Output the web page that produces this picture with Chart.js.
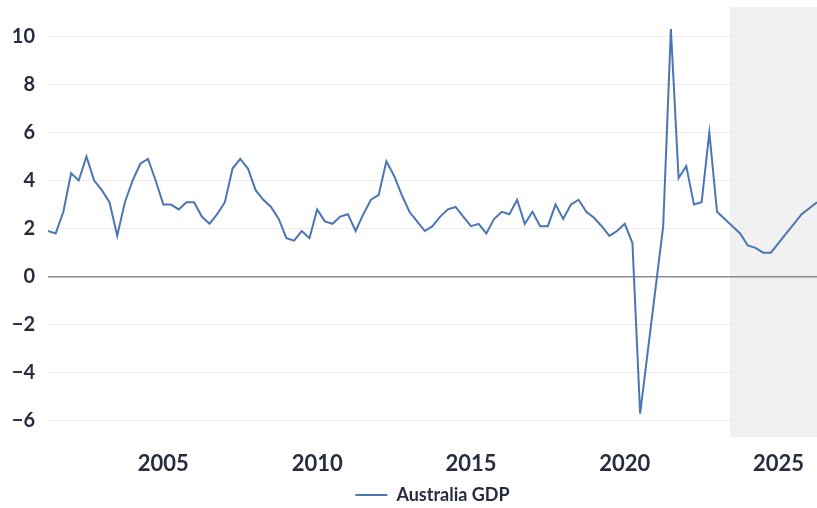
<!DOCTYPE html>
<html>
<head>
<meta charset="utf-8">
<script src="https://cdn.jsdelivr.net/npm/chart.js@4"></script>
<style>
  html, body { margin: 0; padding: 0; background: #fff; }
  #wrap { width: 817px; height: 508px; position: relative; }
</style>
</head>
<body>
<div id="wrap"><canvas id="gdpChart"></canvas></div>
<script>
// Australia GDP, year-on-year % change, quarterly from 2001 Q1 (forecast from mid 2023)
const startYear = 2001;
const gdp = [
  1.9, 1.8, 2.7, 4.3, 4.0, 5.0, 4.0, 3.6, 3.1, 1.7,
  3.1, 4.0, 4.7, 4.9, 4.0, 3.0, 3.0, 2.8, 3.1, 3.1,
  2.5, 2.2, 2.6, 3.1, 4.5, 4.9, 4.5, 3.6, 3.2, 2.9,
  2.4, 1.6, 1.5, 1.9, 1.6, 2.8, 2.3, 2.2, 2.5, 2.6,
  1.9, 2.6, 3.2, 3.4, 4.8, 4.2, 3.4, 2.7, 2.3, 1.9,
  2.1, 2.5, 2.8, 2.9, 2.5, 2.1, 2.2, 1.8, 2.4, 2.7,
  2.6, 3.2, 2.2, 2.7, 2.1, 2.1, 3.0, 2.4, 3.0, 3.2,
  2.7, 2.45, 2.1, 1.7, 1.9, 2.2, 1.4, -5.7, -3.1, -0.5,
  2.1, 10.3, 4.1, 4.6, 3.0, 3.1, 6.0, 2.7, 2.4, 2.1,
  1.8, 1.3, 1.2, 1.0, 1.0, 1.4, 1.8, 2.2, 2.6, 2.85,
  3.1
];

// quarter labels "2001 Q1" ... one per value
const quarters = gdp.map((v, i) => (startYear + Math.floor(i / 4)) + ' Q' + (i % 4 + 1));

const xTicks = [2005, 2010, 2015, 2020, 2025];
const yTicks = [-6, -4, -2, 0, 2, 4, 6, 8, 10];
const forecastFrom = 2023.42;

// quarter end as a decimal year
function quarterPos(label) {
  const parts = label.split(' Q');
  return Number(parts[0]) + Number(parts[1]) / 4;
}

const points = quarters.map((q, i) => ({ x: quarterPos(q), y: gdp[i] }));

const textColor = '#272c42';
const lineColor = '#4a77b3';

const forecastShade = {
  id: 'forecastShade',
  beforeDraw(chart) {
    const { ctx, chartArea, scales } = chart;
    const x0 = scales.x.getPixelForValue(forecastFrom);
    ctx.save();
    ctx.fillStyle = '#f1f1f1';
    ctx.fillRect(x0, chartArea.top, chartArea.right - x0, chartArea.bottom - chartArea.top);
    ctx.restore();
  }
};

new Chart(document.getElementById('gdpChart'), {
  type: 'line',
  data: {
    datasets: [{
      label: 'Australia GDP',
      data: points,
      borderColor: lineColor,
      backgroundColor: lineColor,
      borderWidth: 2,
      pointRadius: 0,
      tension: 0
    }]
  },
  options: {
    responsive: true,
    maintainAspectRatio: false,
    animation: false,
    layout: { padding: { top: 7, right: 0, bottom: -6, left: 0 } },
    scales: {
      x: {
        type: 'linear',
        min: quarterPos(quarters[0]),
        max: quarterPos(quarters[quarters.length - 1]),
        grid: { display: false, drawTicks: false },
        border: { display: false },
        afterBuildTicks: axis => { axis.ticks = xTicks.map(v => ({ value: v })); },
        afterFit: axis => { axis.height = 46; axis.paddingLeft = 0; axis.paddingRight = 0; },
        ticks: {
          autoSkip: false,
          maxRotation: 0,
          padding: 14,
          color: textColor,
          font: { family: 'Lato', size: 22, weight: '700' },
          callback: v => String(v)
        }
      },
      y: {
        min: -6.67,
        max: 11.22,
        grid: {
          drawTicks: false,
          color: c => c.tick && c.tick.value === 0 ? '#8c8c8c' : '#ececec',
          lineWidth: c => c.tick && c.tick.value === 0 ? 1.5 : 1
        },
        border: { display: false },
        afterBuildTicks: axis => { axis.ticks = yTicks.map(v => ({ value: v })); },
        afterFit: axis => { axis.width = 48; axis.paddingTop = 0; axis.paddingBottom = 0; },
        ticks: {
          padding: 13,
          color: textColor,
          font: { family: 'Lato', size: 20, weight: '700' },
          callback: v => (v < 0 ? '\u2212' + Math.abs(v) : String(v))
        }
      }
    },
    plugins: {
      legend: {
        position: 'bottom',
        fullSize: false,
        labels: {
          usePointStyle: true,
          pointStyle: 'line',
          pointStyleWidth: 32,
          padding: 3,
          color: textColor,
          font: { family: 'Lato', size: 18, weight: '700' }
        }
      },
      tooltip: { enabled: false }
    }
  },
  plugins: [forecastShade]
});
</script>
</body>
</html>
